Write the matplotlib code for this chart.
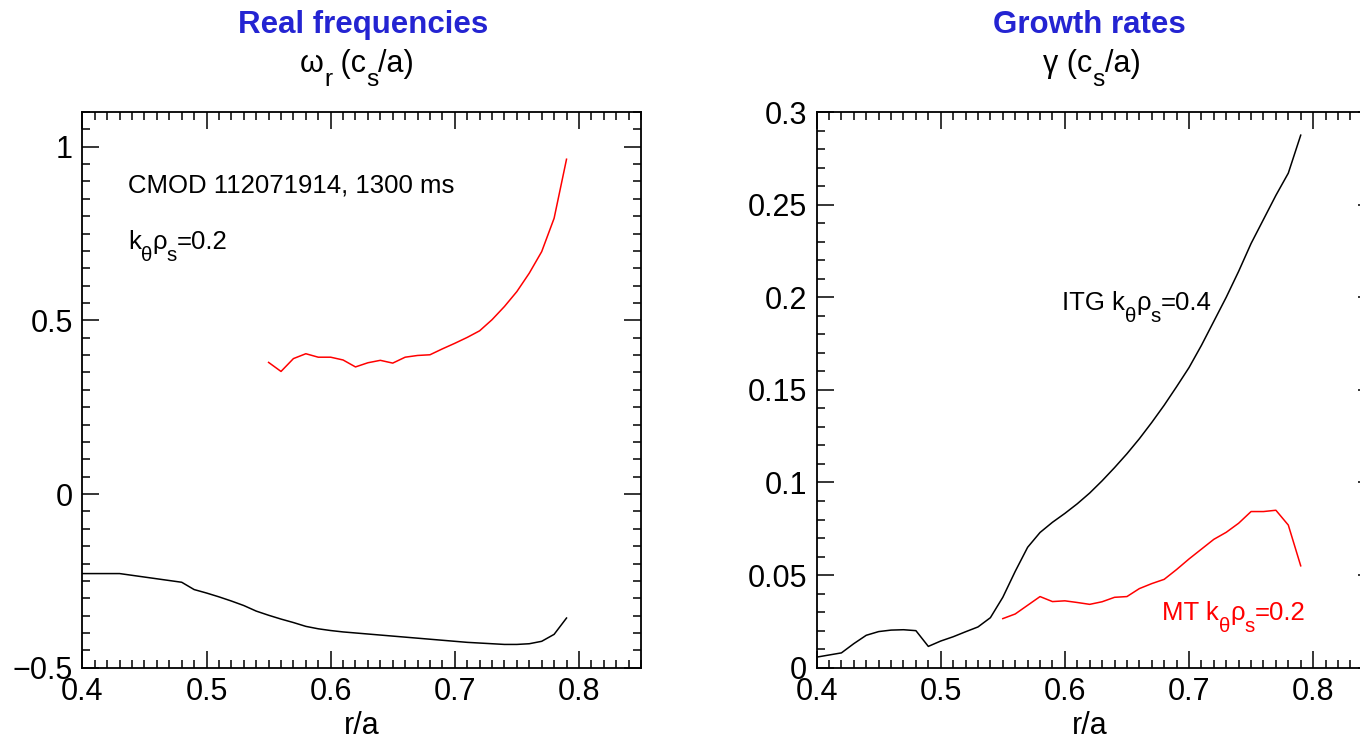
import numpy as np
import matplotlib
matplotlib.use('Agg')
import matplotlib.pyplot as plt
from matplotlib.ticker import MultipleLocator, FuncFormatter

plt.rcParams['font.family'] = ['Liberation Sans', 'DejaVu Sans']

# real frequencies (left)
r_wr_itg = [0.40, 0.43, 0.48, 0.49, 0.50, 0.51, 0.52, 0.53, 0.54, 0.55, 0.56, 0.57, 0.58, 0.59,
            0.60, 0.61, 0.62, 0.63, 0.64, 0.65, 0.66, 0.67, 0.68, 0.69, 0.70, 0.71, 0.72, 0.73,
            0.74, 0.75, 0.76, 0.77, 0.78, 0.79]
wr_itg = [-0.229, -0.229, -0.254, -0.275, -0.285, -0.296, -0.308, -0.321, -0.337, -0.349, -0.360,
          -0.370, -0.381, -0.388, -0.393, -0.397, -0.400, -0.403, -0.406, -0.409, -0.412, -0.415,
          -0.418, -0.421, -0.424, -0.427, -0.429, -0.431, -0.433, -0.433, -0.431, -0.424, -0.404, -0.357]

r_mt = [0.55, 0.56, 0.57, 0.58, 0.59, 0.60, 0.61, 0.62, 0.63, 0.64, 0.65, 0.66, 0.67, 0.68,
        0.69, 0.70, 0.71, 0.72, 0.73, 0.74, 0.75, 0.76, 0.77, 0.78, 0.79]
wr_mt = [0.379, 0.353, 0.390, 0.404, 0.394, 0.394, 0.386, 0.366, 0.378, 0.385, 0.377, 0.394, 0.399,
         0.401, 0.418, 0.434, 0.451, 0.470, 0.502, 0.540, 0.583, 0.636, 0.698, 0.794, 0.964]

# growth rates (right)
r_g_itg = [0.40, 0.42, 0.43, 0.44, 0.45, 0.46, 0.47, 0.48, 0.49, 0.50, 0.51, 0.52, 0.53, 0.54,
           0.55, 0.56, 0.57, 0.58, 0.59, 0.60, 0.61, 0.62, 0.63, 0.64, 0.65, 0.66, 0.67, 0.68,
           0.69, 0.70, 0.71, 0.72, 0.73, 0.74, 0.75, 0.76, 0.77, 0.78, 0.79]
g_itg = [0.0057, 0.008, 0.013, 0.0175, 0.0195, 0.0203, 0.0205, 0.020, 0.0115, 0.0144, 0.0167,
         0.0194, 0.022, 0.027, 0.038, 0.052, 0.065, 0.073, 0.0785, 0.0833, 0.0885, 0.0943, 0.1009,
         0.108, 0.1155, 0.1236, 0.1324, 0.1417, 0.1517, 0.162, 0.174, 0.187, 0.200, 0.214, 0.229,
         0.242, 0.255, 0.267, 0.2875]
g_mt = [0.0265, 0.029, 0.0337, 0.0384, 0.0357, 0.0361, 0.0352, 0.0342, 0.0356, 0.038, 0.0384,
        0.0427, 0.0454, 0.0477, 0.053, 0.0587, 0.064, 0.0693, 0.0731, 0.078, 0.0843, 0.0843,
        0.085, 0.077, 0.055]

blue = '#2424d2'
W, H = 1360, 743

def fx(px):
    return px / W

def fy(py):
    return 1 - py / H

def fmt(v, pos):
    s = '%g' % v
    return s.replace('-', '\u2212')

def style(ax, ymaj, ymin):
    ax.xaxis.set_major_locator(MultipleLocator(0.1))
    ax.xaxis.set_minor_locator(MultipleLocator(0.01))
    ax.yaxis.set_major_locator(MultipleLocator(ymaj))
    ax.yaxis.set_minor_locator(MultipleLocator(ymin))
    ax.xaxis.set_major_formatter(FuncFormatter(fmt))
    ax.yaxis.set_major_formatter(FuncFormatter(fmt))
    ax.tick_params(which='both', direction='in', top=True, right=True, width=1.1, labelsize=22, pad=7)
    ax.tick_params(which='major', length=12.5)
    ax.tick_params(which='minor', length=6)
    for sp in ax.spines.values():
        sp.set_linewidth(1.3)

fig = plt.figure(figsize=(13.6, 7.43), dpi=100)
renderer = fig.canvas.get_renderer()

# text with IDL-like subscripts: parts = [(string, is_subscript), ...]
def rich(px, py, parts, size, color='black', ha='left'):
    widths = []
    for s, sub in parts:
        fs = size * 0.8 if sub else size
        t = fig.text(0, 0, s, fontsize=fs)
        widths.append(t.get_window_extent(renderer).width)
        t.remove()
    x = px - sum(widths) / 2 if ha == 'center' else px
    drop = 0.45 * size * 100 / 72
    for (s, sub), w in zip(parts, widths):
        fs = size * 0.8 if sub else size
        y = py + drop if sub else py
        fig.text(fx(x), fy(y), s, fontsize=fs, color=color, va='baseline')
        x += w

ax1 = fig.add_axes([fx(82.4), fy(667.7), 558.6 / W, 555.7 / H])
ax2 = fig.add_axes([fx(816.6), fy(667.7), 558.6 / W, 555.7 / H])

ax1.plot(r_wr_itg, wr_itg, color='black', lw=1.1)
ax1.plot(r_mt, wr_mt, color='red', lw=1.1)
ax1.set_xlim(0.4, 0.85)
ax1.set_ylim(-0.5, 1.1)
style(ax1, 0.5, 0.05)

ax2.plot(r_g_itg, g_itg, color='black', lw=1.1)
ax2.plot(r_mt, g_mt, color='red', lw=1.1)
ax2.set_xlim(0.4, 0.85)
ax2.set_ylim(0, 0.3)
style(ax2, 0.05, 0.01)

# titles and axis labels
fig.text(fx(363), fy(33), 'Real frequencies', color=blue, fontsize=22.5, fontweight='bold',
         ha='center', va='baseline')
rich(357, 72, [('\u03c9', False), ('r', True), (' (c', False), ('s', True), ('/a)', False)], 22, ha='center')
fig.text(fx(1089), fy(33), 'Growth rates', color=blue, fontsize=22.5, fontweight='bold',
         ha='center', va='baseline')
rich(1092, 72, [('\u03b3 (c', False), ('s', True), ('/a)', False)], 22, ha='center')
fig.text(fx(362), fy(734), 'r/a', fontsize=22, ha='center', va='baseline')
fig.text(fx(1090), fy(734), 'r/a', fontsize=22, ha='center', va='baseline')

# annotations
fig.text(fx(128), fy(193), 'CMOD 112071914, 1300 ms', fontsize=18.5, va='baseline')
rich(128, 249, [('k', False), ('\u03b8', True), ('\u03c1', False), ('s', True), ('=0.2', False)], 18.5)
rich(1062, 310, [('ITG k', False), ('\u03b8', True), ('\u03c1', False), ('s', True), ('=0.4', False)], 18.5)
rich(1162, 620, [('MT k', False), ('\u03b8', True), ('\u03c1', False), ('s', True), ('=0.2', False)], 18.5,
     color='red')

fig.savefig('out.png', dpi=100)
